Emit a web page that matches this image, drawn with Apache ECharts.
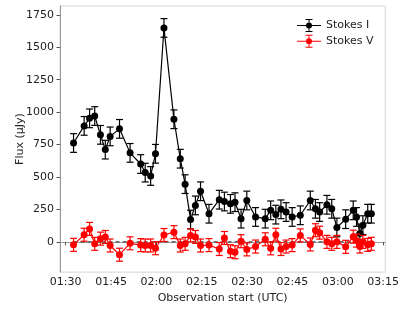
<!DOCTYPE html>
<html>
<head>
<meta charset="utf-8">
<script src="https://cdn.jsdelivr.net/npm/echarts@6/dist/echarts.min.js"></script>
<style>
html,body{margin:0;padding:0;background:#fff;}
#chart{width:402px;height:309px;}
</style>
</head>
<body>
<div id="chart"></div>
<script>
// Observation times, minutes after 00:00 UTC
var times = [92.6, 96.1, 97.9, 99.6, 101.5, 103.1, 104.7, 107.8, 111.3, 114.8, 116.3, 118.1, 119.7, 122.5, 125.8, 127.9, 129.5, 131.3, 132.9, 134.6, 137.4, 140.8, 142.5, 144.5, 146.0, 148.0, 149.9, 152.8, 156.0, 157.8, 159.5, 161.2, 162.9, 164.9, 167.6, 170.9, 172.6, 174.0, 176.4, 178.0, 179.7, 182.6, 185.1, 186.2, 187.3, 188.3, 189.9, 191.1];
var stokesI = [762, 894, 952, 970, 825, 711, 813, 871, 686, 600, 534, 508, 679, 1649, 945, 641, 445, 172, 281, 390, 217, 325, 311, 293, 306, 179, 319, 192, 179, 243, 210, 251, 230, 192, 205, 319, 255, 230, 286, 255, 111, 175, 243, 192, 65, 129, 217, 217];
var stokesV = [-23, 55, 100, -15, 25, 38, -28, -99, -11, -25, -28, -28, -49, 53, 75, -28, -15, 50, 38, -28, -25, -55, 30, -72, -80, 5, -58, -36, 20, -50, 55, -55, -36, -25, 50, -20, 90, 71, 0, -15, 0, -38, 40, 10, -36, 0, -23, -15];
var errI = 72;
var errV = 50;
var xTickLabels = ['01:30', '01:45', '02:00', '02:15', '02:30', '02:45', '03:00', '03:15'];
var yTicks = [0, 250, 500, 750, 1000, 1250, 1500, 1750];

function toMin(s){ var p = s.split(':'); return (+p[0]) * 60 + (+p[1]); }
function fmt(v){ var h = Math.floor(v / 60), m = Math.round(v - h * 60); return (h < 10 ? '0' : '') + h + ':' + (m < 10 ? '0' : '') + m; }
var xTicks = xTickLabels.map(toMin);

var dataI = times.map(function(t, i){ return [t, stokesI[i]]; });
var dataV = times.map(function(t, i){ return [t, stokesV[i]]; });
var errDataI = times.map(function(t, i){ return [t, stokesI[i], errI]; });
var errDataV = times.map(function(t, i){ return [t, stokesV[i], errV]; });

function errRender(params, api){
  var x = api.value(0), y = api.value(1), e = api.value(2);
  var top = api.coord([x, y + e]);
  var bot = api.coord([x, y - e]);
  var cw = 3.5;
  var style = { stroke: api.visual('color'), lineWidth: 1.2, fill: null };
  return { type: 'group', children: [
    { type: 'line', shape: { x1: top[0], y1: top[1], x2: bot[0], y2: bot[1] }, style: style },
    { type: 'line', shape: { x1: top[0] - cw, y1: top[1], x2: top[0] + cw, y2: top[1] }, style: style },
    { type: 'line', shape: { x1: bot[0] - cw, y1: bot[1], x2: bot[0] + cw, y2: bot[1] }, style: style }
  ]};
}

var iconPath = 'path://M0 6.5H24V7.5H0Z M11.5 1H12.5V13H11.5Z M8.5 0.5H15.5V1.5H8.5Z M8.5 12.5H15.5V13.5H8.5Z M9 7A3 3 0 1 1 15 7A3 3 0 1 1 9 7Z';

var font = 'DejaVu Sans';
var chart = echarts.init(document.getElementById('chart'), null, { renderer: 'canvas' });
chart.setOption({
  animation: false,
  backgroundColor: '#fff',
  textStyle: { fontFamily: font },
  grid: { left: 60, right: 16, top: 6, bottom: 33, show: true, borderColor: '#d4d4d4', borderWidth: 1, containLabel: false },
  legend: {
    orient: 'vertical', left: 292, top: 14, itemWidth: 24, itemHeight: 14, itemGap: 2.7,
    textStyle: { fontFamily: font, fontSize: 11, color: '#222', padding: [0, 0, 0, 0] },
    itemStyle: { borderWidth: 0 },
    data: [{ name: 'Stokes I', icon: iconPath }, { name: 'Stokes V', icon: iconPath }]
  },
  xAxis: {
    type: 'value', min: 88.12, max: 195.7,
    name: 'Observation start (UTC)', nameLocation: 'middle', nameGap: 20,
    nameTextStyle: { fontFamily: font, fontSize: 11, color: '#222' },
    axisLine: { show: true, lineStyle: { color: '#9a9a9a', width: 1 } },
    axisTick: { show: true, length: 3.5, lineStyle: { color: '#555' }, customValues: xTicks },
    axisLabel: { fontFamily: font, fontSize: 11, color: '#222', margin: 5, customValues: xTicks, formatter: function(v){ return fmt(v); } },
    splitLine: { show: false }
  },
  yAxis: {
    type: 'value', min: -233, max: 1818,
    name: 'Flux (μJy)', nameLocation: 'middle', nameGap: 34, nameRotate: 90, nameMoveOverlap: false,
    nameTextStyle: { fontFamily: font, fontSize: 11, color: '#222' },
    axisLine: { show: true, lineStyle: { color: '#9a9a9a', width: 1 } },
    axisTick: { show: true, length: 3.5, lineStyle: { color: '#555' }, customValues: yTicks },
    axisLabel: { fontFamily: font, fontSize: 11, color: '#222', margin: 6, customValues: yTicks, formatter: function(v){ return String(v); } },
    splitLine: { show: false }
  },
  series: [
    {
      name: 'zero', type: 'line', silent: true, symbol: 'none', z: 1,
      data: [[times[0], 0], [times[times.length - 1], 0]],
      lineStyle: { color: '#222', width: 1, type: [4, 3] }
    },
    {
      name: 'Stokes I', type: 'line', data: dataI, symbol: 'circle', symbolSize: 7, z: 4,
      itemStyle: { color: '#000' }, lineStyle: { color: '#000', width: 1.2 }
    },
    {
      name: 'Stokes I', type: 'custom', renderItem: errRender, data: errDataI, z: 3,
      itemStyle: { color: '#000' }, encode: { x: 0, y: 1 }
    },
    {
      name: 'Stokes V', type: 'line', data: dataV, symbol: 'circle', symbolSize: 7, z: 6,
      itemStyle: { color: '#ff0000' }, lineStyle: { color: '#ff0000', width: 1.2 }
    },
    {
      name: 'Stokes V', type: 'custom', renderItem: errRender, data: errDataV, z: 5,
      itemStyle: { color: '#ff0000' }, encode: { x: 0, y: 1 }
    }
  ]
});
</script>
</body>
</html>
